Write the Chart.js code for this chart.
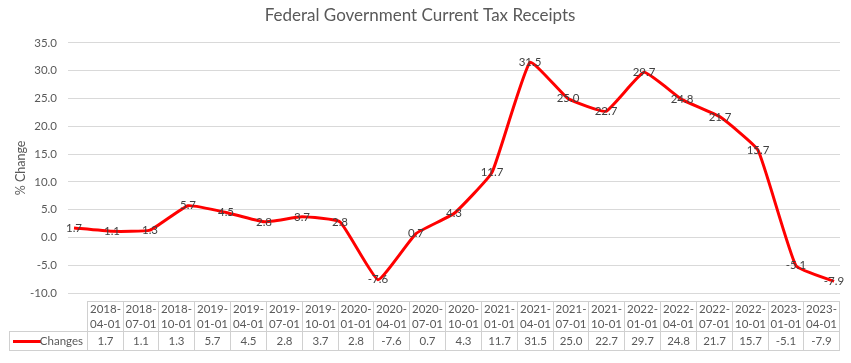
<!DOCTYPE html>
<html>
<head>
<meta charset="utf-8">
<script src="https://cdn.jsdelivr.net/npm/chart.js@4.4.1/dist/chart.umd.min.js"></script>
<style>
  html, body { margin: 0; padding: 0; background: #ffffff; }
  #wrap { position: relative; width: 851px; height: 363px; overflow: hidden; background: #fff; }
  #chart { position: absolute; left: 0; top: 0; }
  .cell { position: absolute; box-sizing: border-box; border: 1px solid #D0D0D0;
          font-family: Lato, "Open Sans", sans-serif; font-size: 11.5px; color: #595959;
          text-align: center; white-space: nowrap; }
  .hdr { line-height: 14.6px; padding-top: 0px; }
  .val { line-height: 18px; }
  .key { position: absolute; left: 3px; top: 8px; width: 28px; height: 3px; background: #FF0000; }
  .keytxt { position: absolute; right: 4px; top: 0; line-height: 18px; }
</style>
</head>
<body>
<div id="wrap">
  <canvas id="chart" width="851" height="363"></canvas>
</div>
<script>
// ---- data ----
const chartTitle = 'Federal Government Current Tax Receipts';
const yAxisTitle = '% Change';
const seriesName = 'Changes';
const categories = ['2018-04-01','2018-07-01','2018-10-01','2019-01-01','2019-04-01','2019-07-01','2019-10-01',
  '2020-01-01','2020-04-01','2020-07-01','2020-10-01','2021-01-01','2021-04-01','2021-07-01','2021-10-01',
  '2022-01-01','2022-04-01','2022-07-01','2022-10-01','2023-01-01','2023-04-01'];
const values = [1.7, 1.1, 1.3, 5.7, 4.5, 2.8, 3.7, 2.8, -7.6, 0.7, 4.3, 11.7, 31.5, 25.0, 22.7, 29.7, 24.8, 21.7, 15.7, -5.1, -7.9];
const yMin = -10, yMax = 35, yStep = 5;

const FONT = 'Lato, "Open Sans", sans-serif';

const dataLabels = {
  id: 'dataLabels',
  afterDatasetsDraw(chart) {
    const ctx = chart.ctx;
    const meta = chart.getDatasetMeta(0);
    ctx.save();
    ctx.font = '11.5px ' + FONT;
    ctx.fillStyle = '#404040';
    ctx.textAlign = 'center';
    ctx.textBaseline = 'middle';
    meta.data.forEach((pt, i) => {
      ctx.fillText(values[i].toFixed(1), pt.x, pt.y);
    });
    ctx.restore();
  }
};

new Chart(document.getElementById('chart'), {
  type: 'line',
  data: {
    datasets: [{
      label: seriesName,
      data: values.map((v, i) => ({ x: i, y: v })),
      borderColor: '#FF0000',
      backgroundColor: '#FF0000',
      borderWidth: 3,
      tension: 0.12,
      pointRadius: 0,
      fill: false
    }]
  },
  options: {
    responsive: false,
    animation: false,
    devicePixelRatio: 1,
    layout: { padding: { left: 0, right: 11, top: 0, bottom: 70 } },
    plugins: {
      legend: { display: false },
      tooltip: { enabled: false },
      title: {
        display: true,
        text: chartTitle,
        color: '#595959',
        font: { family: FONT, size: 17, weight: 'normal' },
        padding: { top: 5.5, bottom: 17 }
      }
    },
    scales: {
      x: {
        type: 'linear',
        min: -0.158,
        max: categories.length - 1 + 0.158,
        display: false
      },
      y: {
        min: yMin,
        max: yMax,
        ticks: {
          stepSize: yStep,
          color: '#595959',
          font: { family: FONT, size: 11.5 },
          padding: 11,
          callback: v => Number(v).toFixed(1)
        },
        grid: { color: '#D9D9D9', drawTicks: false, lineWidth: 1 },
        border: { display: false },
        title: {
          display: true,
          text: yAxisTitle,
          color: '#595959',
          font: { family: FONT, size: 12.5 },
          padding: { top: 13.5, bottom: 0 }
        },
        afterFit(scale) { scale.width = 68; }
      }
    }
  },
  plugins: [dataLabels]
});

// ---- data table ----
const wrap = document.getElementById('wrap');
const tblLeft = 86.7, tblRight = 839.3;
const colW = (tblRight - tblLeft) / categories.length;
const edges = categories.map((c, i) => Math.round(tblLeft + i * colW));
edges.push(Math.round(tblRight));

categories.forEach((c, i) => {
  const h = document.createElement('div');
  h.className = 'cell hdr';
  h.style.left = edges[i] + 'px';
  h.style.width = (edges[i + 1] - edges[i] + 1) + 'px';
  h.style.top = '301px';
  h.style.height = '31px';
  const idx = c.indexOf('-');
  h.innerHTML = c.slice(0, idx + 1) + '<br>' + c.slice(idx + 1);
  wrap.appendChild(h);

  const d = document.createElement('div');
  d.className = 'cell val';
  d.style.left = edges[i] + 'px';
  d.style.width = (edges[i + 1] - edges[i] + 1) + 'px';
  d.style.top = '331px';
  d.style.height = '20px';
  d.textContent = values[i].toFixed(1);
  wrap.appendChild(d);
});

const k = document.createElement('div');
k.className = 'cell';
k.style.left = '9px';
k.style.width = (edges[0] - 9 + 1) + 'px';
k.style.top = '331px';
k.style.height = '20px';
k.innerHTML = '<div class="key"></div><span class="keytxt">' + seriesName + '</span>';
wrap.appendChild(k);
</script>
</body>
</html>
